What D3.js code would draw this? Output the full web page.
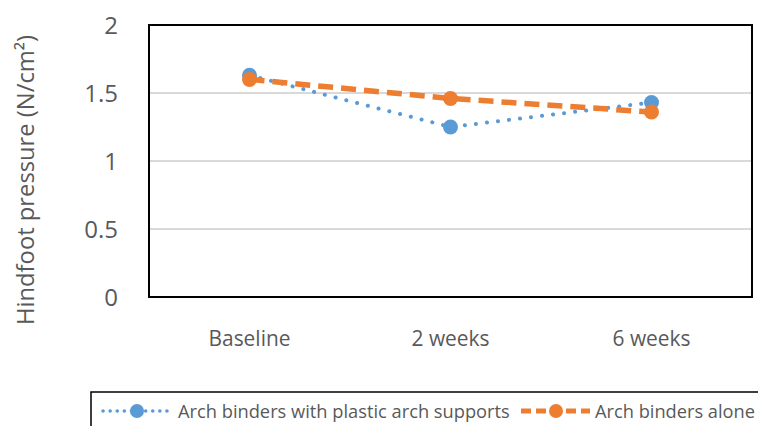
<!DOCTYPE html>
<html><head><meta charset="utf-8">
<script src="https://cdn.jsdelivr.net/npm/d3@7"></script>
<style>body{margin:0;background:#fff}svg{display:block}text{font-family:"Open Sans",sans-serif}</style>
</head><body>
<svg id="c" width="758" height="426"></svg>
<script>
const categories = ["Baseline", "2 weeks", "6 weeks"];
const seriesNames = ["Arch binders with plastic arch supports", "Arch binders alone"];
const withSupports = [1.63, 1.25, 1.43];
const bindersAlone = [1.60, 1.46, 1.36];
const yTicks = [0, 0.5, 1, 1.5, 2];
const yTitle = "Hindfoot pressure (N/cm²)";

const svg = d3.select("#c");
const L = 149, R = 752, T = 25, B = 297;
const x = d3.scaleBand().domain(categories).range([L, R]);
const y = d3.scaleLinear().domain([0, 2]).range([B, T]);
const colors = ["#5b9bd5", "#ed7d31"];
const grey = "#595959";

// scale font so the text reaches a target width
function fit(sel, target) {
  sel.each(function() {
    const w = this.getComputedTextLength();
    const fs = parseFloat(d3.select(this).attr("font-size"));
    d3.select(this).attr("font-size", (fs * target / w).toFixed(2));
  });
}

svg.append("rect").attr("width",758).attr("height",426).attr("fill","#fff");

// gridlines
svg.append("g").selectAll("line").data(yTicks.filter(d => d > 0 && d < 2)).join("line")
  .attr("x1", L).attr("x2", R).attr("y1", d => y(d)).attr("y2", d => y(d))
  .attr("stroke", "#d9d9d9").attr("stroke-width", 2);

// frame
svg.append("rect").attr("x", L).attr("y", T).attr("width", R - L).attr("height", B - T)
  .attr("fill", "none").attr("stroke", "#000").attr("stroke-width", 2);

// y axis labels
const yAxis = d3.axisLeft(y).tickValues(yTicks).tickSize(0).tickPadding(0).tickFormat(d3.format("~g"));
const ga = svg.append("g").attr("transform", `translate(${118},0)`).call(yAxis);
ga.select(".domain").remove();
ga.selectAll("text").attr("fill", grey).attr("font-size", 24).attr("font-family", "'Open Sans',sans-serif").attr("dy", "0.36em");

// x axis labels
const xAxis = d3.axisBottom(x).tickSize(0).tickPadding(0);
const gx = svg.append("g").attr("transform", `translate(0,${346})`).call(xAxis);
gx.select(".domain").remove();
gx.selectAll("text").attr("fill", grey).attr("font-size", 19).attr("font-family", "'Open Sans',sans-serif").attr("dy", "0");
const bw = gx.select("text").node().getComputedTextLength();
gx.selectAll("text").attr("font-size", (19 * 82 / bw).toFixed(2));

// y title
const yt = svg.append("text").attr("transform", `translate(34,${180}) rotate(-90)`)
  .attr("text-anchor", "middle").attr("fill", grey).attr("font-size", 19).text(yTitle);
fit(yt, 290);

const series = [withSupports, bindersAlone];
const styles = [
  {w: 4, dash: "0.1 11", cap: "round"},
  {w: 5.5, dash: "15 8", cap: "butt"}
];
const line = d3.line().x((d, i) => x(categories[i]) + x.bandwidth() / 2).y(d => y(d));
series.forEach((s, k) => {
  svg.append("path").datum(s).attr("d", line).attr("fill", "none")
    .attr("stroke", colors[k]).attr("stroke-width", styles[k].w)
    .attr("stroke-dasharray", styles[k].dash).attr("stroke-linecap", styles[k].cap);
  svg.append("g").selectAll("circle").data(s).join("circle")
    .attr("cx", (d, i) => x(categories[i]) + x.bandwidth() / 2).attr("cy", d => y(d))
    .attr("r", 7.5).attr("fill", colors[k]);
});

// legend
svg.append("rect").attr("x", 91).attr("y", 392).attr("width", 670).attr("height", 50)
  .attr("fill", "#fff").attr("stroke", "#000").attr("stroke-width", 1.5);
const legItems = [{x0: 103, x1: 171, cx: 137, tx: 178, tw: 332}, {x0: 521, x1: 590, cx: 556, tx: 595, tw: 160}];
legItems.forEach((it, k) => {
  svg.append("line").attr("x1", it.x0).attr("x2", it.x1).attr("y1", 411).attr("y2", 411)
    .attr("stroke", colors[k]).attr("stroke-width", k === 0 ? 3.5 : 5)
    .attr("stroke-dasharray", k === 0 ? "0.1 7" : "10 5").attr("stroke-linecap", styles[k].cap);
  svg.append("circle").attr("cx", it.cx).attr("cy", 411).attr("r", 7).attr("fill", colors[k]);
  const t = svg.append("text").attr("x", it.tx).attr("y", 411).attr("dy", "0.36em")
    .attr("fill", grey).attr("font-size", 17).text(seriesNames[k]);
  fit(t, it.tw);
});
</script>
</body></html>
